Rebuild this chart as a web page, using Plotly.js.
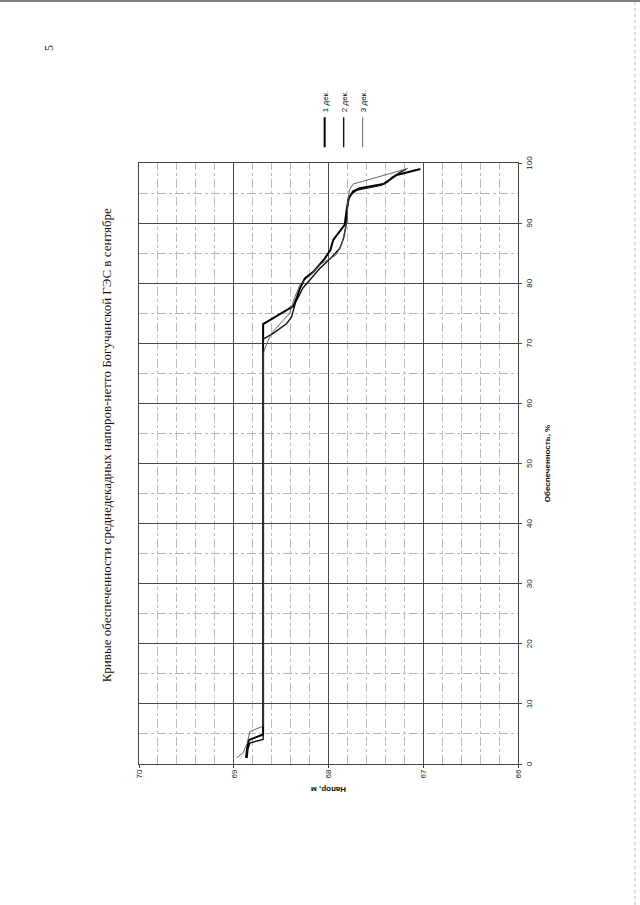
<!DOCTYPE html>
<html>
<head>
<meta charset="utf-8">
<script src="https://cdn.plot.ly/plotly-3.0.1.min.js"></script>
<style>
  html, body { margin: 0; padding: 0; background: #fff; }
  #page { position: relative; width: 640px; height: 905px; overflow: hidden; background: #fff; }
  #chart { position: absolute; left: 0; top: 0; width: 905px; height: 640px;
           transform-origin: 0 0; transform: translate(0px, 905px) rotate(-90deg); }
</style>
</head>
<body>
<div id="page"><div id="chart"></div></div>
<script>
// ---- data ----
const seriesNames = ["1 дек.", "2 дек.", "3 дек."];

// Обеспеченность, %  /  Напор, м
const p1 = [1.0, 2.5, 4.0, 4.9, 73.2, 75.1, 76.2, 77.8, 79.2, 80.8, 81.9, 84.1, 85.5, 87.2, 89.7, 92.0, 94.0, 95.3, 95.8, 96.5, 97.2, 98.0, 99.0];
const h1 = [68.87, 68.86, 68.84, 68.69, 68.69, 68.48, 68.37, 68.33, 68.30, 68.25, 68.16, 68.04, 67.98, 67.95, 67.83, 67.81, 67.79, 67.74, 67.67, 67.42, 67.36, 67.28, 67.03];

const p2 = [1.0, 2.5, 3.5, 4.1, 70.7, 71.7, 73.3, 74.4, 76.7, 79.2, 80.5, 82.5, 84.1, 85.8, 87.5, 90.0, 92.5, 94.5, 95.5, 96.3, 96.8, 97.6, 98.5, 99.0];
const h2 = [68.86, 68.85, 68.83, 68.69, 68.69, 68.58, 68.44, 68.39, 68.35, 68.27, 68.20, 68.09, 67.98, 67.88, 67.84, 67.81, 67.80, 67.78, 67.70, 67.45, 67.38, 67.33, 67.24, 67.18];

const p3 = [1.0, 1.9, 3.4, 5.4, 6.3, 68.3, 70.0, 71.7, 75.0, 77.5, 79.8, 81.5, 83.0, 84.7, 86.5, 88.0, 90.5, 93.0, 95.5, 96.5, 99.1];
const h3 = [68.97, 68.90, 68.86, 68.83, 68.69, 68.69, 68.65, 68.60, 68.41, 68.36, 68.30, 68.18, 68.10, 67.92, 67.86, 67.84, 67.80, 67.80, 67.78, 67.74, 67.16];

const xTicks = [0, 10, 20, 30, 40, 50, 60, 70, 80, 90, 100];
const yTicks = [66, 67, 68, 69, 70];

const titleText = "Кривые обеспеченности среднедекадных напоров-нетто Богучанской ГЭС в сентябре";
const xTitle = "Обеспеченность, %";
const yTitle = "Напор, м";

// ---- chart ----
const sans = "Liberation Sans, Arial, sans-serif";
const serif = "Liberation Serif, Times New Roman, serif";

const traces = [
  {x: p1, y: h1, name: seriesNames[0], mode: "lines", line: {color: "#000", width: 2}},
  {x: p2, y: h2, name: seriesNames[1], mode: "lines", line: {color: "#111", width: 1.4}},
  {x: p3, y: h3, name: seriesNames[2], mode: "lines", line: {color: "#555", width: 0.9}}
];

const layout = {
  width: 905, height: 640,
  margin: {l: 141, r: 163, t: 139, b: 122, pad: 0},
  paper_bgcolor: "#fff", plot_bgcolor: "#fff",
  showlegend: true,
  title: {text: titleText, font: {family: serif, size: 13, color: "#111"},
          xref: "container", yref: "container", x: 0.508, y: 0.833, xanchor: "center", yanchor: "middle"},
  xaxis: {
    range: [0, 100], tickvals: xTicks, ticktext: xTicks.map(String),
    showgrid: true, gridcolor: "#4a4a4a", gridwidth: 1,
    showline: true, mirror: true, linecolor: "#444", linewidth: 1,
    ticks: "outside", ticklen: 3, tickcolor: "#444",
    tickfont: {family: sans, size: 8, color: "#222"},
    zeroline: false,
    minor: {dtick: 5, showgrid: true, gridcolor: "#b5b5b5", griddash: "dashdot", gridwidth: 1},
    title: {text: xTitle, font: {family: sans, size: 8, color: "#111", weight: "bold"}, standoff: 11}
  },
  yaxis: {
    range: [66, 70], tickvals: yTicks, ticktext: yTicks.map(String),
    showgrid: true, gridcolor: "#4a4a4a", gridwidth: 1,
    showline: true, mirror: true, linecolor: "#444", linewidth: 1,
    ticks: "outside", ticklen: 3, tickcolor: "#444",
    tickfont: {family: sans, size: 8, color: "#222"},
    zeroline: false,
    minor: {dtick: 0.2, showgrid: true, gridcolor: "#bdbdbd", griddash: "dashdot", gridwidth: 1},
    title: {text: yTitle, font: {family: sans, size: 8, color: "#111", weight: "bold"}, standoff: 6}
  },
  legend: {x: 1.018, y: 0.46, xanchor: "left", yanchor: "middle",
           font: {family: sans, size: 8, color: "#111"}, bgcolor: "rgba(0,0,0,0)", tracegroupgap: 0},
  annotations: [
    {text: "5", xref: "paper", yref: "paper", x: (857 - 141) / 601, y: 1 - (49 - 139) / 379,
     showarrow: false, font: {family: serif, size: 12, color: "#222"}, xanchor: "center", yanchor: "middle"}
  ],
  shapes: [
    {type: "line", xref: "paper", yref: "paper", x0: (904 - 141) / 601, x1: (904 - 141) / 601,
     y0: 1 + 139 / 379, y1: 1 - (640 - 139) / 379, line: {color: "#555", width: 1.5}},
    {type: "line", xref: "paper", yref: "paper", x0: -141 / 601, x1: (905 - 141) / 601,
     y0: 1 - (635 - 139) / 379, y1: 1 - (635 - 139) / 379, line: {color: "#bbb", width: 1, dash: "dot"}}
  ]
};

Plotly.newPlot("chart", traces, layout, {staticPlot: true, displayModeBar: false, responsive: false});
</script>
</body>
</html>
